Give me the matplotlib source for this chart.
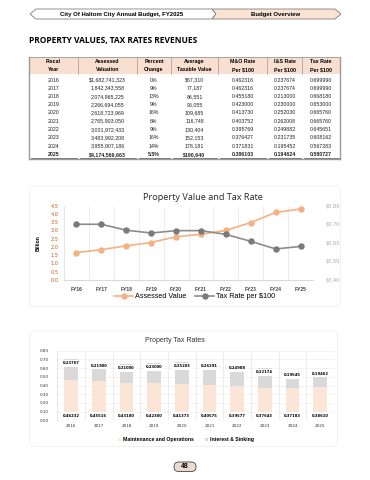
import matplotlib
matplotlib.use('Agg')
import matplotlib.pyplot as plt
from matplotlib.patches import Polygon, FancyBboxPatch, Rectangle
import numpy as np

# Datos de la tabla
years = ['2016', '2017', '2018', '2019', '2020', '2021', '2022', '2023', '2024', '2025']
assessed = ['$1,682,741,323', '1,842,343,558', '2,074,965,225', '2,266,694,055', '2,618,723,969',
            '2,765,903,050', '3,001,972,433', '3,483,992,208', '3,955,907,186', '$4,174,569,663']
pct_change = ['0%', '9%', '13%', '9%', '16%', '6%', '9%', '16%', '14%', '5.5%']
avg_value = ['$67,310', '77,187', '86,551', '96,055', '109,685', '116,748', '130,404', '152,153',
             '178,181', '$190,640']
mo_rate = ['0.462316', '0.462316', '0.455180', '0.423000', '0.413730', '0.403752', '0.395769',
           '0.376427', '0.371831', '0.386103']
is_rate = ['0.237674', '0.237674', '0.213000', '0.230000', '0.252030', '0.262008', '0.249882',
           '0.231735', '0.195452', '0.194624']
tax_rate = ['0.699990', '0.699990', '0.668180', '0.653000', '0.665760', '0.665760', '0.645651',
            '0.608162', '0.567283', '0.580727']

# Gráfico de líneas
fy_labels = ['FY16', 'FY17', 'FY18', 'FY19', 'FY20', 'FY21', 'FY22', 'FY23', 'FY24', 'FY25']
assessed_bn = [1.66, 1.84, 2.07, 2.27, 2.62, 2.77, 3.00, 3.48, 4.09, 4.30]
rate_per_100 = [0.69999, 0.69999, 0.66818, 0.653, 0.66576, 0.66576, 0.645651, 0.608162, 0.567283, 0.580727]

# Gráfico de barras
mo_bar = [0.46232, 0.45516, 0.43180, 0.42300, 0.41373, 0.40575, 0.39577, 0.37643, 0.37183, 0.38610]
is_bar = [0.23767, 0.21900, 0.21000, 0.23000, 0.25203, 0.26291, 0.24988, 0.22174, 0.19545, 0.19462]

PEACH = '#fbe3d4'
ORANGE = '#f4b183'
GRAY_LINE = '#8c8c8c'
FONT = 'Liberation Sans'

fig = plt.figure(figsize=(3.7, 4.8), dpi=100)
bg = fig.add_axes([0, 0, 1, 1])
bg.set_xlim(0, 370)
bg.set_ylim(480, 0)
bg.axis('off')

# Cabecera
bg.add_patch(Polygon([(36, 9), (212, 9), (216, 14), (212, 19), (36, 19), (30, 14)],
                     closed=True, facecolor='white', edgecolor='#7f7f7f', lw=0.6))
bg.add_patch(Polygon([(212, 9), (335, 9), (341, 14), (335, 19), (212, 19), (216, 14)],
                     closed=True, facecolor=PEACH, edgecolor='#7f7f7f', lw=0.6))
bg.text(122, 14.3, 'City Of Haltom City Annual Budget, FY2025', ha='center', va='center',
        fontsize=4.3, fontweight='bold', family=FONT)
bg.text(276, 14.3, 'Budget Overview', ha='center', va='center', fontsize=4.3,
        fontweight='bold', family=FONT)

bg.text(29, 41, 'PROPERTY VALUES, TAX RATES REVENUES', ha='left', va='center',
        fontsize=6.0, fontweight='bold', family='Open Sans')

# Tabla
edges = [29, 78, 137, 171, 218, 267, 302, 340]
centers = [(edges[i] + edges[i + 1]) / 2 for i in range(7)]
bg.add_patch(Rectangle((29, 57), 311, 17, facecolor='#f9dfcf', edgecolor='none'))
headers = [('Fiscal', 'Year'), ('Assessed', 'Valuation'), ('Percent', 'Change'),
           ('Average', 'Taxable Value'), ('M&O Rate', 'Per $100'), ('I&S Rate', 'Per $100'),
           ('Tax Rate', 'Per $100')]
for c, (h1, h2) in zip(centers, headers):
    bg.text(c, 61.5, h1, ha='center', va='center', fontsize=3.8, fontweight='bold', family=FONT)
    bg.text(c, 69.5, h2, ha='center', va='center', fontsize=3.8, fontweight='bold', family=FONT)
for x in edges[1:-1]:
    bg.plot([x, x], [57, 74], color='#9a9a9a', lw=0.5)
bg.plot([29, 340], [57, 57], color='#9a9a9a', lw=0.6)
bg.plot([29, 29], [57, 159], color='#9a9a9a', lw=1.0)
bg.plot([340, 340], [57, 159], color='#9a9a9a', lw=1.0)
bg.plot([29, 340], [159, 159], color='#9a9a9a', lw=1.0)
for i, yr in enumerate(years):
    y = 80 + 8.25 * i
    fw = 'bold' if i == len(years) - 1 else 'normal'
    row = [yr, assessed[i], pct_change[i], avg_value[i], mo_rate[i], is_rate[i], tax_rate[i]]
    for c, v in zip(centers, row):
        bg.text(c, y, v, ha='center', va='center', fontsize=3.8, fontweight=fw,
                family=FONT, color='#222222')
for i in range(7):
    bg.plot([edges[i] + 1.5, edges[i + 1] - 1.5], [158.2, 158.2], color='#555555', lw=0.5)

# Paneles
bg.add_patch(FancyBboxPatch((29.5, 186), 311, 120.5, boxstyle='round,pad=0,rounding_size=5',
                            facecolor='white', edgecolor='#ebebeb', lw=0.5))
bg.add_patch(FancyBboxPatch((29.5, 331), 308, 115.5, boxstyle='round,pad=0,rounding_size=5',
                            facecolor='white', edgecolor='#ebebeb', lw=0.5))

# Gráfico 1: valor y tasa
ax1 = fig.add_axes([64 / 370, 1 - 280 / 480, 249 / 370, 74.3 / 480])
x = np.arange(len(fy_labels))
l1, = ax1.plot(x, assessed_bn, color=ORANGE, lw=1.2, marker='o', ms=3.6, label='Assessed Value')
ax1.set_ylim(0, 4.5)
ax1.set_yticks(np.arange(0, 4.51, 0.5))
ax1.set_yticklabels([f'{v:.1f}' for v in np.arange(0, 4.51, 0.5)])
ax1.set_xlim(-0.5, 9.5)
ax1.set_xticks(x)
ax1.set_xticklabels(fy_labels, fontsize=3.6, fontweight='bold', color='#404040', family=FONT)
for v in np.arange(0.5, 9.5, 1):
    ax1.axvline(v, color='#e6e6e6', lw=0.5, zorder=0)
ax1.tick_params(axis='y', labelsize=3.6, colors='#c55a11', length=0, pad=4)
ax1.tick_params(axis='x', length=0, pad=5)
for s in ax1.spines.values():
    s.set_visible(False)
ax1.spines['left'].set_visible(True)
ax1.spines['left'].set_color('#e6e6e6')
ax1.spines['bottom'].set_visible(True)
ax1.spines['bottom'].set_color('#d9d9d9')
ax1.set_ylabel('Billion', fontsize=3.6, fontweight='bold', labelpad=7, family=FONT)

ax1r = ax1.twinx()
l2, = ax1r.plot(x, rate_per_100, color=GRAY_LINE, lw=1.2, marker='o', ms=3.6,
                markerfacecolor='#7a7a7a', markeredgecolor='#7a7a7a', label='Tax Rate per $100')
ax1r.set_ylim(0.40, 0.80)
ax1r.set_yticks(np.arange(0.40, 0.81, 0.10))
ax1r.set_yticklabels([f'${v:.2f}' for v in np.arange(0.40, 0.81, 0.10)])
ax1r.tick_params(axis='y', labelsize=3.6, colors='#a6a6a6', length=0, pad=9)
for s in ax1r.spines.values():
    s.set_visible(False)

bg.text(203, 197.5, 'Property Value and Tax Rate', ha='center', va='center', fontsize=6.6,
        family='Open Sans', color='#262626')
fig.legend(handles=[l1, l2], loc='center', bbox_to_anchor=(195 / 370, 1 - 296.5 / 480), ncol=2,
           frameon=False, prop={'family': FONT, 'size': 5.2}, handlelength=2.6,
           columnspacing=1.2, handletextpad=0.3, borderpad=0)

# Gráfico 2: tasas
ax2 = fig.add_axes([57.3 / 370, 1 - 420.3 / 480, 276.7 / 370, 69.6 / 480])
b1 = ax2.bar(x, mo_bar, width=0.5, color='#fbe5d6', zorder=2, label='Maintenance and Operations')
b2 = ax2.bar(x, is_bar, width=0.5, bottom=mo_bar, color='#d9d9d9', zorder=2, label='Interest & Sinking')
for xi, m, s in zip(x, mo_bar, is_bar):
    ax2.text(xi, m + s - 0.045, f'{s:.5f}', ha='center', va='center', fontsize=2.7,
             fontweight='bold', zorder=3,
             bbox=dict(facecolor='white', edgecolor='none', pad=1.2))
    ax2.text(xi, 0.05, f'{m:.5f}', ha='center', va='center', fontsize=2.7,
             fontweight='bold', zorder=3,
             bbox=dict(facecolor='white', edgecolor='none', pad=1.2))
ax2.set_ylim(0, 0.8)
ax2.set_xlim(-0.5, 9.5)
ax2.set_yticks(np.arange(0, 0.81, 0.1))
ax2.set_yticklabels([f'{v:.2f}' for v in np.arange(0, 0.81, 0.1)])
ax2.set_xticks(x)
ax2.set_xticklabels(years)
ax2.tick_params(axis='y', labelsize=3.0, length=0, pad=6, colors='#333333')
ax2.tick_params(axis='x', labelsize=3.0, length=0, pad=3, colors='#333333')
for v in np.arange(0.1, 0.81, 0.1):
    ax2.axhline(v, color='#eeeeee', lw=0.5, zorder=0)
for v in np.arange(0.5, 9.5, 1):
    ax2.axvline(v, color='#e6e6e6', lw=0.5, zorder=0)
for s in ax2.spines.values():
    s.set_visible(False)
ax2.spines['left'].set_visible(True)
ax2.spines['left'].set_color('#e6e6e6')
bg.text(174.5, 340.5, 'Property Tax Rates', ha='center', va='center', fontsize=5.0,
        family=FONT, color='#333333')
fig.legend(handles=[b1, b2], loc='center', bbox_to_anchor=(186 / 370, 1 - 440 / 480), ncol=2,
           frameon=False, prop={'family': FONT, 'size': 3.7, 'weight': 'bold'}, handlelength=0.6,
           handleheight=0.6, columnspacing=2.0, handletextpad=0.4, borderpad=0)

# Número de página
bg.add_patch(FancyBboxPatch((174, 462), 22, 9.5, boxstyle='round,pad=0,rounding_size=4.7',
                            facecolor='#eadbd2', edgecolor='#444444', lw=0.6))
bg.text(185, 467, '48', ha='center', va='center', fontsize=5, fontweight='bold', family=FONT)

fig.savefig('out.png', dpi=100)
